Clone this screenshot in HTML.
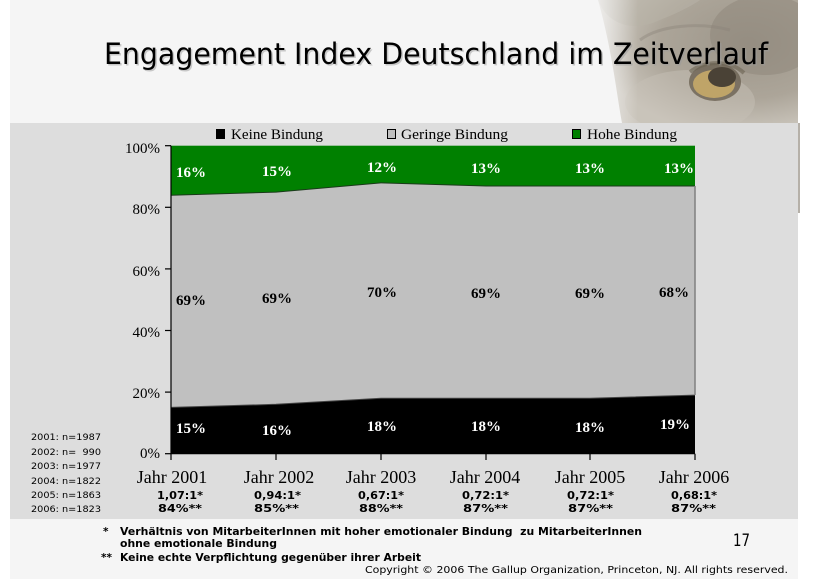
<!DOCTYPE html>
<html><head><meta charset="utf-8"><style>
html,body{margin:0;padding:0;background:#fff;}
svg{display:block;}
.pre{white-space:pre;}
</style></head><body>
<svg width="818" height="585" viewBox="0 0 818 585" xmlns="http://www.w3.org/2000/svg">
<defs>
<radialGradient id="owlg" cx="0.75" cy="0.35" r="0.75">
<stop offset="0" stop-color="#9d968a"/>
<stop offset="0.6" stop-color="#aca599"/>
<stop offset="1" stop-color="#cdc8bf"/>
</radialGradient>
<linearGradient id="owlfade" x1="0" y1="0" x2="1" y2="0">
<stop offset="0" stop-color="#f5f5f5" stop-opacity="0.8"/>
<stop offset="1" stop-color="#f5f5f5" stop-opacity="0"/>
</linearGradient>
<clipPath id="owlclip"><rect x="560" y="0" width="238" height="123"/></clipPath>
</defs>
<rect x="0" y="0" width="818" height="585" fill="#ffffff"/>
<rect x="10" y="0" width="788" height="579" fill="#f5f5f5"/>
<!-- owl -->
<g clip-path="url(#owlclip)">
<path d="M598,0 L798,0 L798,123 L622,123 C616,90 612,50 598,0 Z" fill="url(#owlg)"/>
<path d="M598,0 C610,30 640,30 660,20 C690,8 700,0 700,0 Z" fill="#b8b2a7" opacity="0.6"/>
<ellipse cx="765" cy="35" rx="55" ry="40" fill="#8e867a" opacity="0.5"/>
<ellipse cx="690" cy="102" rx="65" ry="32" fill="#c6c0b5" opacity="0.5"/>
<path d="M640,40 C660,25 700,22 730,30" stroke="#8a8377" stroke-width="3" fill="none" opacity="0.4"/>
<ellipse cx="715" cy="82" rx="26" ry="19" fill="#6b6252" opacity="0.8"/>
<ellipse cx="714" cy="84" rx="21" ry="14" fill="#bfa468"/>
<ellipse cx="722" cy="77" rx="14" ry="10" fill="#4a4236"/>
<path d="M690,72 C705,60 730,60 744,73" stroke="#6a6252" stroke-width="4" fill="none" opacity="0.6"/>
<rect x="598" y="0" width="40" height="123" fill="url(#owlfade)"/>
</g>
<rect x="798" y="123" width="2" height="90" fill="#b5b0a8"/>
<!-- title -->
<text x="105.5" y="65.5" font-family="DejaVu Sans, Verdana, sans-serif" font-size="29" fill="#9a9a9a" opacity="0.5" textLength="664" lengthAdjust="spacingAndGlyphs">Engagement Index Deutschland im Zeitverlauf</text>
<text x="104" y="64" font-family="DejaVu Sans, Verdana, sans-serif" font-size="29" fill="#000" textLength="664" lengthAdjust="spacingAndGlyphs">Engagement Index Deutschland im Zeitverlauf</text>
<!-- panel -->
<rect x="10" y="123" width="788" height="396" fill="#dddddd"/>
<!-- legend -->
<g font-family="Liberation Serif, Times New Roman, serif" font-size="15" fill="#000">
<rect x="216.5" y="129.5" width="8" height="9" fill="#000" stroke="#000"/>
<text x="231" y="139" textLength="92" lengthAdjust="spacingAndGlyphs">Keine Bindung</text>
<rect x="387.5" y="129.5" width="8" height="9" fill="#c0c0c0" stroke="#000"/>
<text x="401" y="139" textLength="107" lengthAdjust="spacingAndGlyphs">Geringe Bindung</text>
<rect x="572.5" y="129.5" width="8" height="9" fill="#008000" stroke="#000"/>
<text x="587" y="139" textLength="90" lengthAdjust="spacingAndGlyphs">Hohe Bindung</text>
</g>
<!-- plot areas -->
<rect x="171" y="145.7" width="524" height="308" fill="#008000"/>
<polygon points="171,195.2 276,192.1 381,182.9 486,186 590,186 695,186 695,453.7 171,453.7" fill="#c0c0c0"/>
<polyline points="171,195.2 276,192.1 381,182.9 486,186 590,186 695,186" fill="none" stroke="#1a3a1a" stroke-width="1"/>
<polygon points="171,407.4 276,404.3 381,398.2 486,398.2 590,398.2 695,395.1 695,453.7 171,453.7" fill="#000"/>
<polyline points="171,407.4 276,404.3 381,398.2 486,398.2 590,398.2 695,395.1" fill="none" stroke="#444" stroke-width="1"/>
<line x1="695" y1="186" x2="695" y2="395" stroke="#808080" stroke-width="1.5"/>
<!-- axes -->
<g stroke="#000" stroke-width="1.2">
<line x1="171" y1="145.7" x2="171" y2="454"/>
<line x1="171" y1="453.7" x2="695" y2="453.7"/>
<line x1="165" y1="145.7" x2="171" y2="145.7"/>
<line x1="165" y1="207.3" x2="171" y2="207.3"/>
<line x1="165" y1="268.9" x2="171" y2="268.9"/>
<line x1="165" y1="330.5" x2="171" y2="330.5"/>
<line x1="165" y1="392.1" x2="171" y2="392.1"/>
<line x1="165" y1="453.7" x2="171" y2="453.7"/>
<line x1="171" y1="453.7" x2="171" y2="460"/>
<line x1="276" y1="453.7" x2="276" y2="460"/>
<line x1="381" y1="453.7" x2="381" y2="460"/>
<line x1="486" y1="453.7" x2="486" y2="460"/>
<line x1="590" y1="453.7" x2="590" y2="460"/>
<line x1="695" y1="453.7" x2="695" y2="460"/>
</g>
<!-- y labels -->
<g font-family="Liberation Serif, Times New Roman, serif" font-size="15" fill="#000" text-anchor="end">
<text x="160" y="153">100%</text>
<text x="160" y="214">80%</text>
<text x="160" y="276">60%</text>
<text x="160" y="337">40%</text>
<text x="160" y="398">20%</text>
<text x="160" y="458">0%</text>
</g>
<!-- x labels -->
<g font-family="Liberation Serif, Times New Roman, serif" font-size="18" fill="#000" text-anchor="middle">
<text x="172" y="483">Jahr 2001</text>
<text x="279" y="483">Jahr 2002</text>
<text x="381" y="483">Jahr 2003</text>
<text x="485" y="483">Jahr 2004</text>
<text x="590" y="483">Jahr 2005</text>
<text x="694" y="483">Jahr 2006</text>
</g>
<!-- data labels -->
<g font-family="Liberation Serif, Times New Roman, serif" font-size="15" font-weight="bold">
<g fill="#fff">
<text x="176" y="177">16%</text>
<text x="262" y="176">15%</text>
<text x="367" y="172">12%</text>
<text x="471" y="173">13%</text>
<text x="575" y="173">13%</text>
<text x="664" y="173">13%</text>
<text x="176" y="433">15%</text>
<text x="262" y="435">16%</text>
<text x="367" y="431">18%</text>
<text x="471" y="431">18%</text>
<text x="575" y="432">18%</text>
<text x="660" y="429">19%</text>
</g>
<g fill="#000">
<text x="176" y="305">69%</text>
<text x="262" y="303">69%</text>
<text x="367" y="297">70%</text>
<text x="471" y="298">69%</text>
<text x="575" y="298">69%</text>
<text x="659" y="297">68%</text>
</g>
</g>
<!-- ratios -->
<g font-family="DejaVu Sans, Verdana, sans-serif" font-size="11" font-weight="bold" fill="#000">
<text x="157" y="499" textLength="46" lengthAdjust="spacingAndGlyphs">1,07:1*</text>
<text x="254" y="499" textLength="47" lengthAdjust="spacingAndGlyphs">0,94:1*</text>
<text x="358" y="499" textLength="46" lengthAdjust="spacingAndGlyphs">0,67:1*</text>
<text x="462" y="499" textLength="47" lengthAdjust="spacingAndGlyphs">0,72:1*</text>
<text x="567" y="499" textLength="47" lengthAdjust="spacingAndGlyphs">0,72:1*</text>
<text x="671" y="499" textLength="46" lengthAdjust="spacingAndGlyphs">0,68:1*</text>
<text x="158" y="512" textLength="44" lengthAdjust="spacingAndGlyphs">84%**</text>
<text x="254" y="512" textLength="45" lengthAdjust="spacingAndGlyphs">85%**</text>
<text x="359" y="512" textLength="44" lengthAdjust="spacingAndGlyphs">88%**</text>
<text x="463" y="512" textLength="45" lengthAdjust="spacingAndGlyphs">87%**</text>
<text x="568" y="512" textLength="45" lengthAdjust="spacingAndGlyphs">87%**</text>
<text x="671" y="512" textLength="45" lengthAdjust="spacingAndGlyphs">87%**</text>
</g>
<!-- n labels -->
<g font-family="DejaVu Sans, Verdana, sans-serif" font-size="9" fill="#000">
<text x="31" y="440" textLength="70" lengthAdjust="spacingAndGlyphs">2001: n=1987</text>
<text class="pre" x="31" y="455" textLength="70" lengthAdjust="spacingAndGlyphs">2002: n=  990</text>
<text x="31" y="469" textLength="70" lengthAdjust="spacingAndGlyphs">2003: n=1977</text>
<text x="31" y="484" textLength="70" lengthAdjust="spacingAndGlyphs">2004: n=1822</text>
<text x="31" y="498" textLength="70" lengthAdjust="spacingAndGlyphs">2005: n=1863</text>
<text x="31" y="512" textLength="70" lengthAdjust="spacingAndGlyphs">2006: n=1823</text>
</g>
<!-- footnotes -->
<g font-family="DejaVu Sans, Verdana, sans-serif" font-size="10.5" font-weight="bold" fill="#000">
<text x="103" y="535">*</text>
<text class="pre" x="120" y="535" textLength="522" lengthAdjust="spacingAndGlyphs">Verhältnis von MitarbeiterInnen mit hoher emotionaler Bindung  zu MitarbeiterInnen</text>
<text x="120" y="547" textLength="157" lengthAdjust="spacingAndGlyphs">ohne emotionale Bindung</text>
<text x="101" y="561">**</text>
<text x="120" y="561" textLength="301" lengthAdjust="spacingAndGlyphs">Keine echte Verpflichtung gegenüber ihrer Arbeit</text>
</g>
<text x="365" y="573" font-family="DejaVu Sans, Verdana, sans-serif" font-size="10" fill="#000" textLength="423" lengthAdjust="spacingAndGlyphs">Copyright © 2006 The Gallup Organization, Princeton, NJ. All rights reserved.</text>
<text x="733" y="546" font-family="DejaVu Sans, Verdana, sans-serif" font-size="17" fill="#000" textLength="17" lengthAdjust="spacingAndGlyphs">17</text>
</svg>
</body></html>
